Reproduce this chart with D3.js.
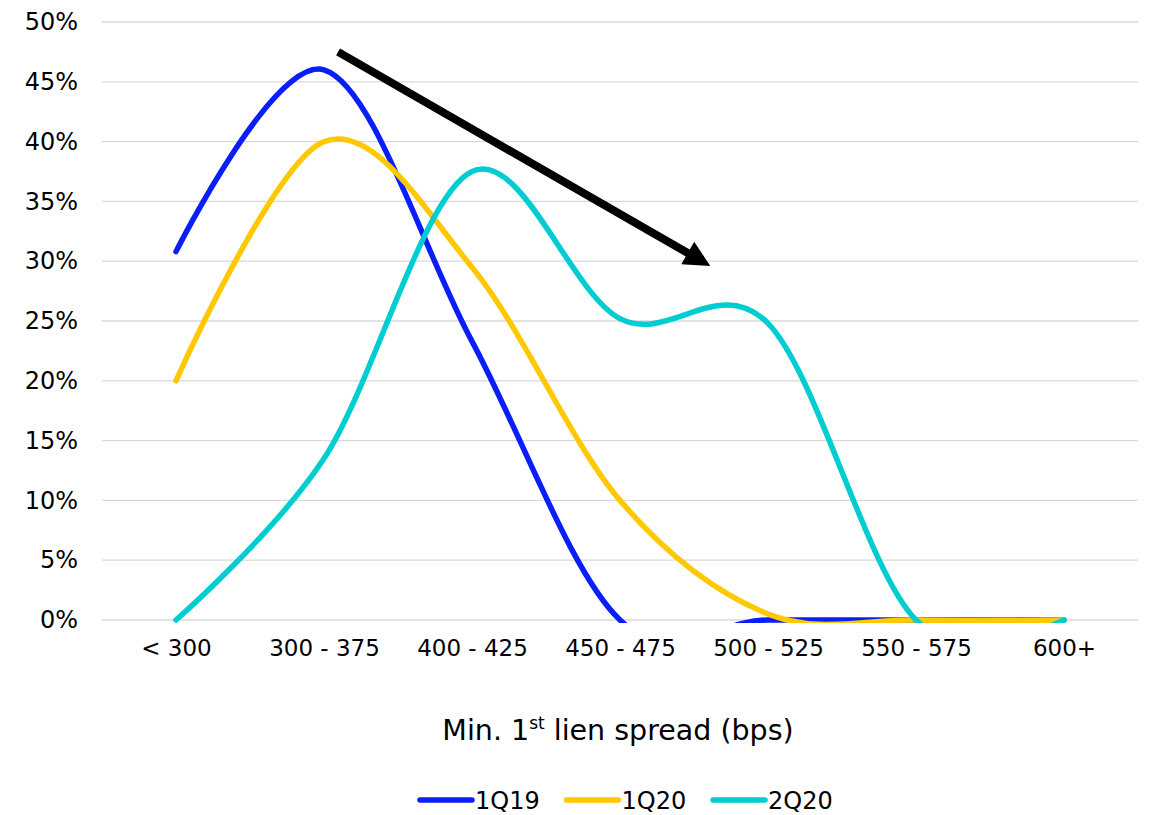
<!DOCTYPE html>
<html>
<head>
<meta charset="utf-8">
<script src="https://cdn.jsdelivr.net/npm/d3@7"></script>
<style>
  body { margin: 0; background: #fff; }
  text { font-family: "DejaVu Sans", Verdana, sans-serif; fill: #000; }
</style>
</head>
<body>
<svg id="chart"></svg>
<script>
// data
const categories = ['< 300', '300 - 375', '400 - 425', '450 - 475', '500 - 525', '550 - 575', '600+'];
const q119 = [30.8, 46.0, 23.3, 0, 0, 0, 0];
const q120 = [20.0, 40.0, 29.5, 10.0, 0.5, 0, 0];
const q220 = [0, 13.5, 37.5, 25.2, 24.8, 0, 0];
const seriesNames = ['1Q19', '1Q20', '2Q20'];
const yTicks = [0, 5, 10, 15, 20, 25, 30, 35, 40, 45, 50];
// arrow annotation, in (category index, percent)
const arrowFrom = [1.095, 47.5];
const arrowTo = [3.61, 29.6];

const colors = ['#0A1EFA', '#FFC800', '#00CDD2'];
const width = 1151, height = 815;
const margin = { top: 22, right: 13, bottom: 195, left: 102 };

const svg = d3.select('#chart')
    .attr('width', width)
    .attr('height', height);

const x = d3.scalePoint()
    .domain(categories)
    .range([margin.left, width - margin.right])
    .padding(0.5);

const y = d3.scaleLinear()
    .domain([0, 50])
    .range([height - margin.bottom, margin.top]);

// index scale for the annotation arrow
const xi = d3.scaleLinear()
    .domain([0, categories.length - 1])
    .range([x(categories[0]), x(categories[categories.length - 1])]);

// gridlines
svg.append('g')
    .selectAll('line')
    .data(yTicks)
    .join('line')
    .attr('x1', margin.left)
    .attr('x2', width - margin.right)
    .attr('y1', d => y(d))
    .attr('y2', d => y(d))
    .attr('stroke', '#d9d9d9')
    .attr('stroke-width', 1.3);

// y axis labels
const yAxis = d3.axisLeft(y).tickValues(yTicks).tickFormat(d => d + '%').tickSize(0).tickPadding(0);
svg.append('g')
    .attr('transform', `translate(${margin.left - 24}, 0)`)
    .call(yAxis)
    .call(g => g.select('.domain').remove())
    .selectAll('text')
    .attr('font-size', 24)
    .attr('font-family', '"DejaVu Sans", Verdana, sans-serif')
    .attr('fill', '#000');

// x axis labels
const xAxis = d3.axisBottom(x).tickSize(0).tickPadding(0);
svg.append('g')
    .attr('transform', `translate(0, ${y(0) + 20})`)
    .call(xAxis)
    .call(g => g.select('.domain').remove())
    .selectAll('text')
    .attr('dy', '0.71em')
    .attr('font-size', 23)
    .attr('font-family', '"DejaVu Sans", Verdana, sans-serif')
    .attr('fill', '#000');

// x axis title
const title = svg.append('text')
    .attr('x', 618)
    .attr('y', 740)
    .attr('text-anchor', 'middle')
    .attr('font-size', 28.5);
title.append('tspan').text('Min. 1');
title.append('tspan').attr('dy', -11).attr('font-size', 17).text('st');
title.append('tspan').attr('dy', 11).text(' lien spread (bps)');

// clip the smoothed lines at the plot area (like Excel)
svg.append('clipPath')
    .attr('id', 'plot-clip')
    .append('rect')
    .attr('x', 0)
    .attr('y', 0)
    .attr('width', width)
    .attr('height', y(0) + 3);

const line = d3.line()
    .x((d, i) => x(categories[i]))
    .y(d => y(d))
    .curve(d3.curveCardinal.tension(0));

const allSeries = [q119, q120, q220];
svg.append('g')
    .attr('clip-path', 'url(#plot-clip)')
    .selectAll('path')
    .data(allSeries)
    .join('path')
    .attr('d', d => line(d))
    .attr('fill', 'none')
    .attr('stroke', (d, i) => colors[i])
    .attr('stroke-width', 5.5)
    .attr('stroke-linecap', 'round')
    .attr('stroke-linejoin', 'round');

// arrow
svg.append('defs')
    .append('marker')
    .attr('id', 'arrowhead')
    .attr('viewBox', '0 0 10 10')
    .attr('refX', 10)
    .attr('refY', 5)
    .attr('markerUnits', 'userSpaceOnUse')
    .attr('markerWidth', 30)
    .attr('markerHeight', 26)
    .attr('orient', 'auto')
    .append('path')
    .attr('d', 'M0,0 L10,5 L0,10 Z')
    .attr('fill', '#000');

const ax1 = xi(arrowFrom[0]), ay1 = y(arrowFrom[1]);
const ax2 = xi(arrowTo[0]), ay2 = y(arrowTo[1]);
const ang = Math.atan2(ay2 - ay1, ax2 - ax1);
svg.append('line')
    .attr('x1', ax1)
    .attr('y1', ay1)
    .attr('x2', ax2 - 20 * Math.cos(ang))
    .attr('y2', ay2 - 20 * Math.sin(ang))
    .attr('stroke', '#000')
    .attr('stroke-width', 8);
svg.append('line')
    .attr('x1', ax2 - 30 * Math.cos(ang))
    .attr('y1', ay2 - 30 * Math.sin(ang))
    .attr('x2', ax2)
    .attr('y2', ay2)
    .attr('stroke', 'none')
    .attr('marker-end', 'url(#arrowhead)');

// legend
const legend = svg.append('g')
    .selectAll('g')
    .data(seriesNames)
    .join('g')
    .attr('transform', (d, i) => `translate(${420 + i * 146.5}, 800)`);
legend.append('line')
    .attr('x1', 0)
    .attr('x2', 52)
    .attr('stroke', (d, i) => colors[i])
    .attr('stroke-width', 5.5)
    .attr('stroke-linecap', 'round');
legend.append('text')
    .attr('x', 55)
    .attr('y', 9)
    .attr('font-size', 24)
    .text(d => d);
</script>
</body>
</html>
